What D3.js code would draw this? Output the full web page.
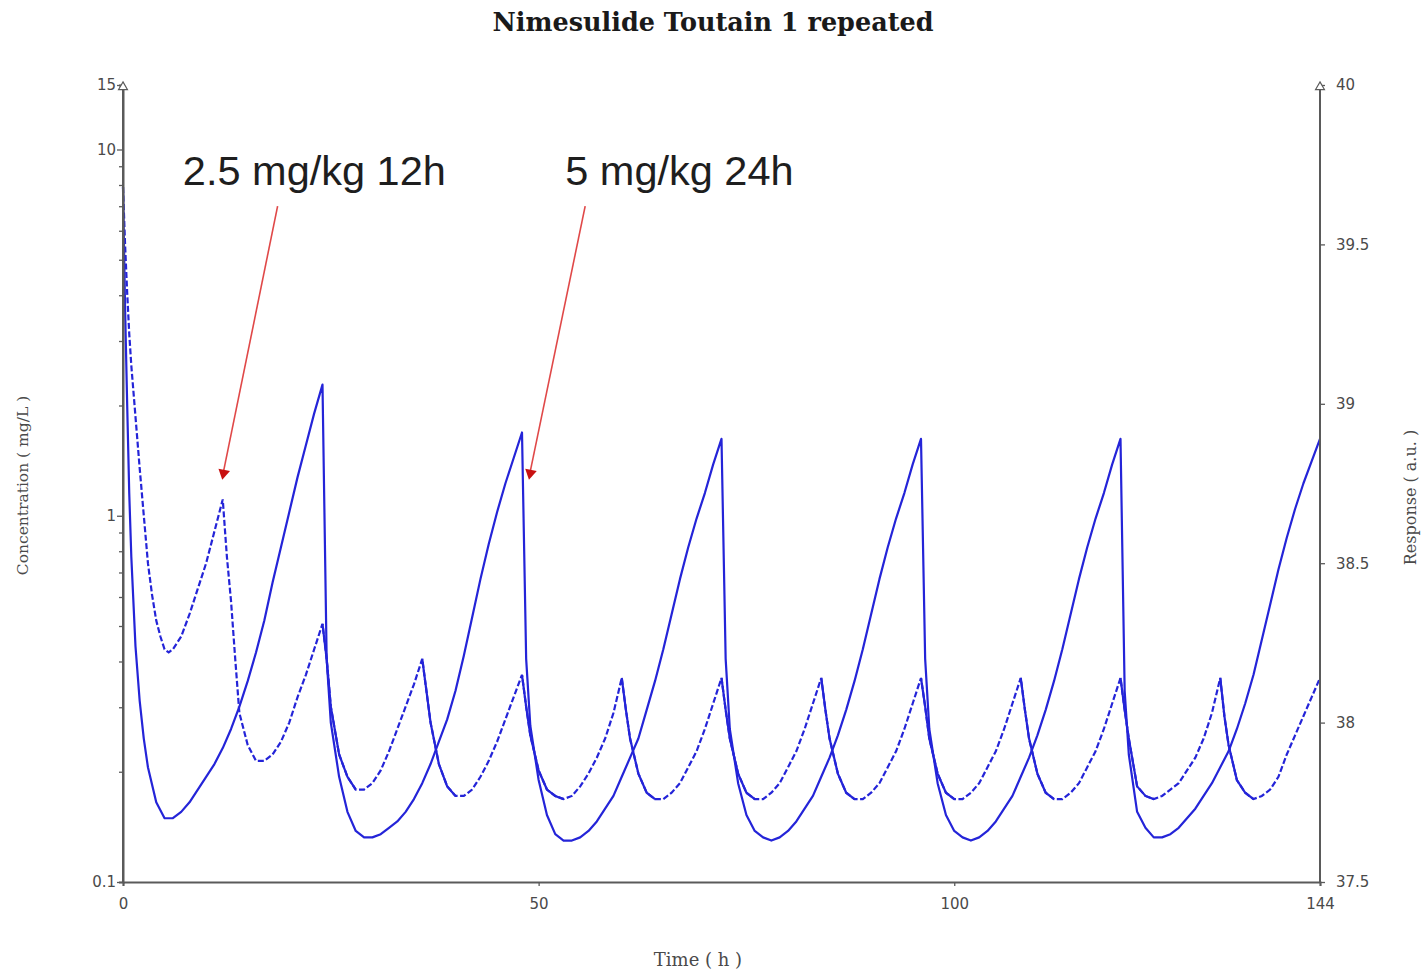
<!DOCTYPE html>
<html>
<head>
<meta charset="utf-8">
<script src="https://cdn.jsdelivr.net/npm/d3@7/dist/d3.min.js"></script>
<style>
body { margin: 0; background: #fff; }
</style>
</head>
<body>
<script>
// simulated response, 2.5 mg/kg every 12h (drawn dashed)
const dose12h = [
  [0,39.68],[0.25,39.50],[0.5,39.35],[0.75,39.22],[1,39.12],[1.5,38.96],[2,38.80],[2.5,38.65],[3,38.50],[3.5,38.40],
  [4,38.32],[4.5,38.27],[5,38.23],[5.5,38.22],[6,38.23],[7,38.27],[8,38.34],[9,38.42],[10,38.50],[11,38.60],[12,38.70],
  [12.5,38.52],[13,38.38],[13.5,38.20],[14,38.03],[15,37.93],[16,37.88],[17,37.88],[18,37.90],[19,37.94],[20,38.00],
  [21,38.08],[22,38.15],[23,38.23],[24,38.31],
  [24.5,38.20],[25,38.05],[26,37.90],[27,37.83],[28,37.79],[29,37.79],[30,37.81],[31,37.85],[32,37.91],[33,37.98],
  [34,38.05],[35,38.12],[36,38.20],
  [36.5,38.10],[37,38.00],[38,37.87],[39,37.80],[40,37.77],[41,37.77],[42,37.79],[43,37.83],[44,37.88],[45,37.94],
  [46,38.01],[47,38.08],[48,38.15],
  [48.5,38.05],[49,37.96],[50,37.85],[51,37.79],[52,37.77],[53,37.76],[54,37.77],[55,37.80],[56,37.84],[57,37.89],
  [58,37.95],[59,38.03],[60,38.14],
  [60.5,38.04],[61,37.95],[62,37.84],[63,37.78],[64,37.76],[65,37.76],[66,37.78],[67,37.81],[68,37.86],[69,37.91],
  [70,37.98],[71,38.06],[72,38.14],
  [72.5,38.04],[73,37.95],[74,37.84],[75,37.78],[76,37.76],[77,37.76],[78,37.78],[79,37.81],[80,37.86],[81,37.91],
  [82,37.98],[83,38.06],[84,38.14],
  [84.5,38.04],[85,37.95],[86,37.84],[87,37.78],[88,37.76],[89,37.76],[90,37.78],[91,37.81],[92,37.86],[93,37.91],
  [94,37.98],[95,38.06],[96,38.14],
  [96.5,38.05],[97,37.95],[98,37.84],[99,37.78],[100,37.76],[101,37.76],[102,37.78],[103,37.81],[104,37.86],[105,37.91],
  [106,37.98],[107,38.06],[108,38.14],
  [108.5,38.04],[109,37.95],[110,37.84],[111,37.78],[112,37.76],[113,37.76],[114,37.78],[115,37.81],[116,37.86],[117,37.91],
  [118,37.98],[119,38.06],[120,38.14],
  [120.5,38.04],[121,37.95],[122,37.80],[123,37.77],[124,37.76],[125,37.77],[126,37.79],[127,37.81],[128,37.85],[129,37.89],
  [130,37.95],[131,38.03],[132,38.14],
  [132.5,38.02],[133,37.93],[134,37.82],[135,37.78],[136,37.76],[137,37.77],[138,37.79],[139,37.83],[140,37.90],[141,37.96],
  [142,38.02],[143,38.08],[144,38.14]
];

// simulated response, 5 mg/kg every 24h (drawn solid)
const dose24h = [
  [0,39.68],[0.25,39.30],[0.5,39.00],[0.75,38.72],[1,38.52],[1.5,38.24],[2,38.07],[2.5,37.95],[3,37.86],[4,37.75],
  [5,37.70],[6,37.70],[7,37.72],[8,37.75],[9,37.79],[10,37.83],[11,37.87],[12,37.92],[13,37.98],[14,38.05],[15,38.13],
  [16,38.22],[17,38.32],[18,38.44],[19,38.55],[20,38.66],[21,38.77],[22,38.87],[23,38.97],[24,39.06],
  [24.5,38.20],[25,38.00],[26,37.83],[27,37.72],[28,37.66],[29,37.64],[30,37.64],[31,37.65],[32,37.67],[33,37.69],
  [34,37.72],[35,37.76],[36,37.81],[37,37.87],[38,37.94],[39,38.01],[40,38.10],[41,38.21],[42,38.33],[43,38.45],
  [44,38.56],[45,38.66],[46,38.75],[47,38.83],[48,38.91],
  [48.5,38.20],[49,37.99],[50,37.82],[51,37.71],[52,37.65],[53,37.63],[54,37.63],[55,37.64],[56,37.66],[57,37.69],
  [58,37.73],[59,37.77],[60,37.83],[61,37.89],[62,37.95],[63,38.04],[64,38.13],[65,38.23],[66,38.34],[67,38.45],
  [68,38.55],[69,38.64],[70,38.72],[71,38.81],[72,38.89],
  [72.5,38.20],[73,37.98],[74,37.81],[75,37.71],[76,37.66],[77,37.64],[78,37.63],[79,37.64],[80,37.66],[81,37.69],
  [82,37.73],[83,37.77],[84,37.83],[85,37.89],[86,37.96],[87,38.04],[88,38.13],[89,38.23],[90,38.34],[91,38.45],
  [92,38.55],[93,38.64],[94,38.72],[95,38.81],[96,38.89],
  [96.5,38.20],[97,37.98],[98,37.81],[99,37.71],[100,37.66],[101,37.64],[102,37.63],[103,37.64],[104,37.66],[105,37.69],
  [106,37.73],[107,37.77],[108,37.83],[109,37.89],[110,37.96],[111,38.04],[112,38.13],[113,38.23],[114,38.34],[115,38.45],
  [116,38.55],[117,38.64],[118,38.72],[119,38.81],[120,38.89],
  [120.5,38.10],[121,37.90],[122,37.72],[123,37.67],[124,37.64],[125,37.64],[126,37.65],[127,37.67],[128,37.70],[129,37.73],
  [130,37.77],[131,37.81],[132,37.86],[133,37.91],[134,37.98],[135,38.06],[136,38.15],[137,38.26],[138,38.37],[139,38.48],
  [140,38.58],[141,38.67],[142,38.75],[143,38.82],[144,38.89]
];

// axis ticks
const timeTicks = [0, 50, 100, 144];
const concTicks = [0.1, 1, 10, 15];
const concMinor = [0.2,0.3,0.4,0.5,0.6,0.7,0.8,0.9,2,3,4,5,6,7,8,9];
const respTicks = [37.5, 38, 38.5, 39, 39.5, 40];

// annotations: label, label anchor (time, response), arrow from (t0, r0) to tip (t1, r1)
const notes = [
  {label: "2.5 mg/kg 12h", t: 7.2, r: 39.686, t0: 18.6, r0: 39.62, t1: 12.1, r1: 38.77},
  {label: "5 mg/kg 24h",   t: 53.2, r: 39.686, t0: 55.6, r0: 39.62, t1: 49.0, r1: 38.77}
];

const W = 1423, H = 974;
const svg = d3.select("body").append("svg")
  .attr("width", W).attr("height", H)
  .style("font-family", "'DejaVu Sans', sans-serif");

const x = d3.scaleLinear().domain([0, 144]).range([123, 1320]);
const yConc = d3.scaleLog().domain([0.1, 15]).range([882, 85]);
const yResp = d3.scaleLinear().domain([37.5, 40]).range([882, 85]);

const axisCol = "#5a5a5a", labelCol = "#4a4a4a";

// title
svg.append("text")
  .attr("x", 713).attr("y", 31)
  .attr("text-anchor", "middle")
  .style("font-family", "'DejaVu Serif', serif")
  .style("font-weight", "bold")
  .style("font-size", "25.5px")
  .attr("fill", "#1a1a1a")
  .text("Nimesulide Toutain 1 repeated");

// curves
const line = d3.line().x(d => x(d[0])).y(d => yResp(d[1]));
const blue = "#2424d8";

svg.append("path").datum(dose24h)
  .attr("d", line).attr("fill", "none")
  .attr("stroke", blue).attr("stroke-width", 2.2)
  .attr("stroke-linejoin", "round");

svg.append("path").datum(dose12h)
  .attr("d", line).attr("fill", "none")
  .attr("stroke", blue).attr("stroke-width", 2.2)
  .attr("stroke-dasharray", "6,2.5");

// falling parts of the 12h curve look solid after the first day
let falls = [], cur = null;
for (let i = 1; i < dose12h.length; i++) {
  const a = dose12h[i-1], b = dose12h[i];
  if (a[0] >= 24 && b[1] < a[1]) {
    if (!cur) { cur = [a]; falls.push(cur); }
    cur.push(b);
  } else cur = null;
}
svg.append("g").selectAll("path").data(falls).join("path")
  .attr("d", line).attr("fill", "none")
  .attr("stroke", blue).attr("stroke-width", 2.2);

// left axis (log concentration)
const gL = svg.append("g").attr("transform", `translate(${x(0)},0)`);
gL.call(d3.axisLeft(yConc).tickValues(concTicks).tickSize(6).tickFormat(d3.format("~g")));
gL.append("g").call(d3.axisLeft(yConc).tickValues(concMinor).tickSize(4).tickFormat(""));

// right axis (response)
const gR = svg.append("g").attr("transform", `translate(${x(144)},0)`);
gR.call(d3.axisRight(yResp).tickValues(respTicks).tickSize(5).tickFormat(d3.format("~g")));

// bottom axis (time)
const gB = svg.append("g").attr("transform", `translate(0,${yConc(0.1)})`);
gB.call(d3.axisBottom(x).tickValues(timeTicks).tickSize(4).tickPadding(12));

[gL, gR, gB].forEach(g => {
  g.selectAll(".domain").attr("stroke", axisCol).attr("stroke-width", 2);
  g.selectAll(".tick line").attr("stroke", axisCol).attr("stroke-width", 1.3);
  g.selectAll("text").attr("fill", labelCol).style("font-size", "15px")
    .style("font-family", "'DejaVu Sans', sans-serif");
});
gL.selectAll(".tick text").attr("x", -7);
gR.selectAll(".tick text").attr("x", 16);
gL.select(".domain").attr("d", `M0,${yConc(0.1)}V${yConc(15)}`);
gR.select(".domain").attr("d", `M0,${yResp(37.5)}V${yResp(40)}`);

// open arrow heads at the top of the vertical axes
svg.selectAll("path.axarrow").data([x(0), x(144)]).join("path")
  .attr("class", "axarrow")
  .attr("d", d3.symbol(d3.symbolTriangle, 34)())
  .attr("transform", d => `translate(${d},${yResp(40) + 2})`)
  .attr("fill", "#fff").attr("stroke", axisCol).attr("stroke-width", 1.2);

// axis titles
svg.append("text")
  .attr("transform", `translate(28,${(yConc(0.1) + yConc(15)) / 2 + 2}) rotate(-90)`)
  .attr("text-anchor", "middle")
  .style("font-family", "'DejaVu Serif', serif").style("font-size", "15.5px")
  .attr("fill", labelCol).text("Concentration ( mg/L )");

svg.append("text")
  .attr("transform", `translate(1416,${(yResp(37.5) + yResp(40)) / 2 + 14}) rotate(-90)`)
  .attr("text-anchor", "middle")
  .style("font-family", "'DejaVu Serif', serif").style("font-size", "16px")
  .attr("fill", labelCol).text("Response ( a.u. )");

svg.append("text")
  .attr("x", 698).attr("y", 966)
  .attr("text-anchor", "middle")
  .style("font-family", "'DejaVu Serif', serif").style("font-size", "18px")
  .attr("fill", labelCol).text("Time ( h )");

// annotations with red arrows
const ann = svg.append("g");
ann.selectAll("line").data(notes).join("line")
  .attr("x1", d => x(d.t0)).attr("y1", d => yResp(d.r0))
  .attr("x2", d => x(d.t1)).attr("y2", d => yResp(d.r1) - 6)
  .attr("stroke", "#e04848").attr("stroke-width", 1.6);

ann.selectAll("path").data(notes).join("path")
  .attr("d", d3.symbol(d3.symbolTriangle, 60)())
  .attr("transform", d => {
    const ang = Math.atan2(yResp(d.r1) - yResp(d.r0), x(d.t1) - x(d.t0)) * 180 / Math.PI;
    return `translate(${x(d.t1)},${yResp(d.r1) - 4}) rotate(${ang + 90})`;
  })
  .attr("fill", "#c81010");

ann.selectAll("text").data(notes).join("text")
  .attr("x", d => x(d.t)).attr("y", d => yResp(d.r))
  .style("font-family", "'Liberation Sans', Arial, sans-serif")
  .style("font-size", "41.5px")
  .attr("fill", "#1e1e1e")
  .text(d => d.label);
</script>
</body>
</html>
